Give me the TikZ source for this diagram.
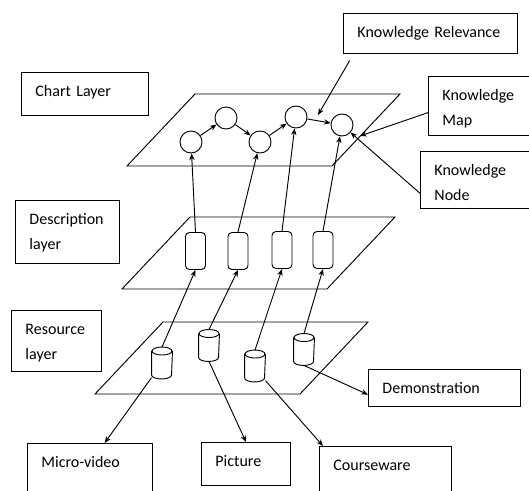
\documentclass[tikz,border=0pt]{standalone}
\usepackage{fontspec}
\setmainfont{Carlito}
\usetikzlibrary{arrows.meta}
\tikzset{
    box/.style 2 args={draw, anchor=north west, align=left, inner xsep=10.5pt, inner ysep=0pt,
        text width=#1-21pt, text height=18pt, text depth=#2-18pt,
        font=\fontsize{12pt}{18.75pt}\selectfont},
    knode/.style={draw, circle, minimum size=16.5pt, inner sep=0pt},
    dnode/.style={draw, rounded corners=3pt, minimum width=15pt, minimum height=27.75pt, inner sep=0pt},
    rnode/.style={minimum width=15pt, minimum height=23.25pt, inner sep=0pt},
    link/.style={-{Stealth[length=5pt,width=4pt]}}
}
\begin{document}
\begin{tikzpicture}[x=0.75pt, y=-0.75pt, line width=0.7pt]
    \useasboundingbox (0,0) rectangle (529,491);
    \clip (0,0) rectangle (529,491);
    \draw (195,94) -- (400,94) -- (332,166) -- (127,166) -- cycle;
    \draw (190,217) -- (395,217) -- (327,289) -- (122,289) -- cycle;
    \draw (163,322) -- (368,322) -- (300,394) -- (95,394) -- cycle;
    \node[box={130.5pt}{30pt}] (rel) at (343,13) {Knowledge Relevance};
    \node[box={95.25pt}{32.25pt}] (chart) at (21,72) {Chart Layer};
    \node[box={82.5pt}{44.25pt}] (map) at (428,76) {Knowledge\\Map};
    \node[box={90pt}{42.75pt}] (nodebox) at (420,151) {Knowledge\\Node};
    \node[box={78pt}{47.25pt}] (desc) at (15,200) {Description\\layer};
    \node[box={67.5pt}{45.75pt}] (res) at (11,310) {Resource\\layer};
    \node[box={114pt}{27.75pt}] (demo) at (368,369) {Demonstration};
    \node[box={93.75pt}{45pt}] (micro) at (27,443) {Micro-video};
    \node[box={66.75pt}{32.25pt}] (pic) at (201,442) {Picture};
    \node[box={99pt}{45pt}] (course) at (319,446) {Courseware};
    \node[knode] (k1) at (191,142) {};
    \node[knode] (k2) at (226,118) {};
    \node[knode] (k3) at (260,142) {};
    \node[knode] (k4) at (296,117) {};
    \node[knode] (k5) at (342,125) {};
    \node[dnode] (d1) at (195.5,251) {};
    \node[dnode] (d2) at (238,251) {};
    \node[dnode] (d3) at (282,250) {};
    \node[dnode] (d4) at (323,250) {};
    \node[rnode] (r1) at (162,363) {};
    \node[rnode] (r2) at (209,345.5) {};
    \node[rnode] (r3) at (255,366) {};
    \node[rnode] (r4) at (304,349.5) {};
    \foreach \r in {r1,r2,r3,r4} {
        \draw ([yshift=-3pt]\r.north west) -- ([yshift=3pt]\r.south west)
            arc[start angle=180, end angle=360, x radius=7.5pt, y radius=3pt]
            -- ([yshift=-3pt]\r.north east);
        \draw ([yshift=-3pt]\r.north) ellipse [x radius=7.5pt, y radius=3pt];
    }
    \coordinate (relpt) at (318,115);
    \coordinate (mappt) at (360,136);
    \draw[link] (k1) -- (k2);
    \draw[link] (k2) -- (k3);
    \draw[link] (k3) -- (k4);
    \draw[link] (k4) -- (k5);
    \draw[link] (d1.north) -- (k1);
    \draw[link] (d2.north) -- (k3);
    \draw[link] (d3.north) -- (k4);
    \draw[link] (d4.north) -- (k5);
    \draw[link] (r1.north) -- (d1.south);
    \draw[link] (r2.north) -- (d2.south);
    \draw[link] (r3.north) -- (d3.south);
    \draw[link] (r4.north) -- (d4.south);
    \draw[link] ([yshift=1pt]r1.south west) -- ([xshift=11pt]micro.north);
    \draw[link] (r2.south) -- (pic.north);
    \draw[link] ([yshift=1pt]r3.south east) -- ([xshift=3pt]course.north west);
    \draw[link] (r4.south) -- ([yshift=-5pt]demo.west);
    \draw[link] ([xshift=5pt,yshift=-5pt]rel.south west) -- (relpt);
    \draw[link] ([yshift=-5pt]map.west) -- (mappt);
    \draw[link] ([yshift=-10pt]nodebox.west) -- (k5);
\end{tikzpicture}
\end{document}
